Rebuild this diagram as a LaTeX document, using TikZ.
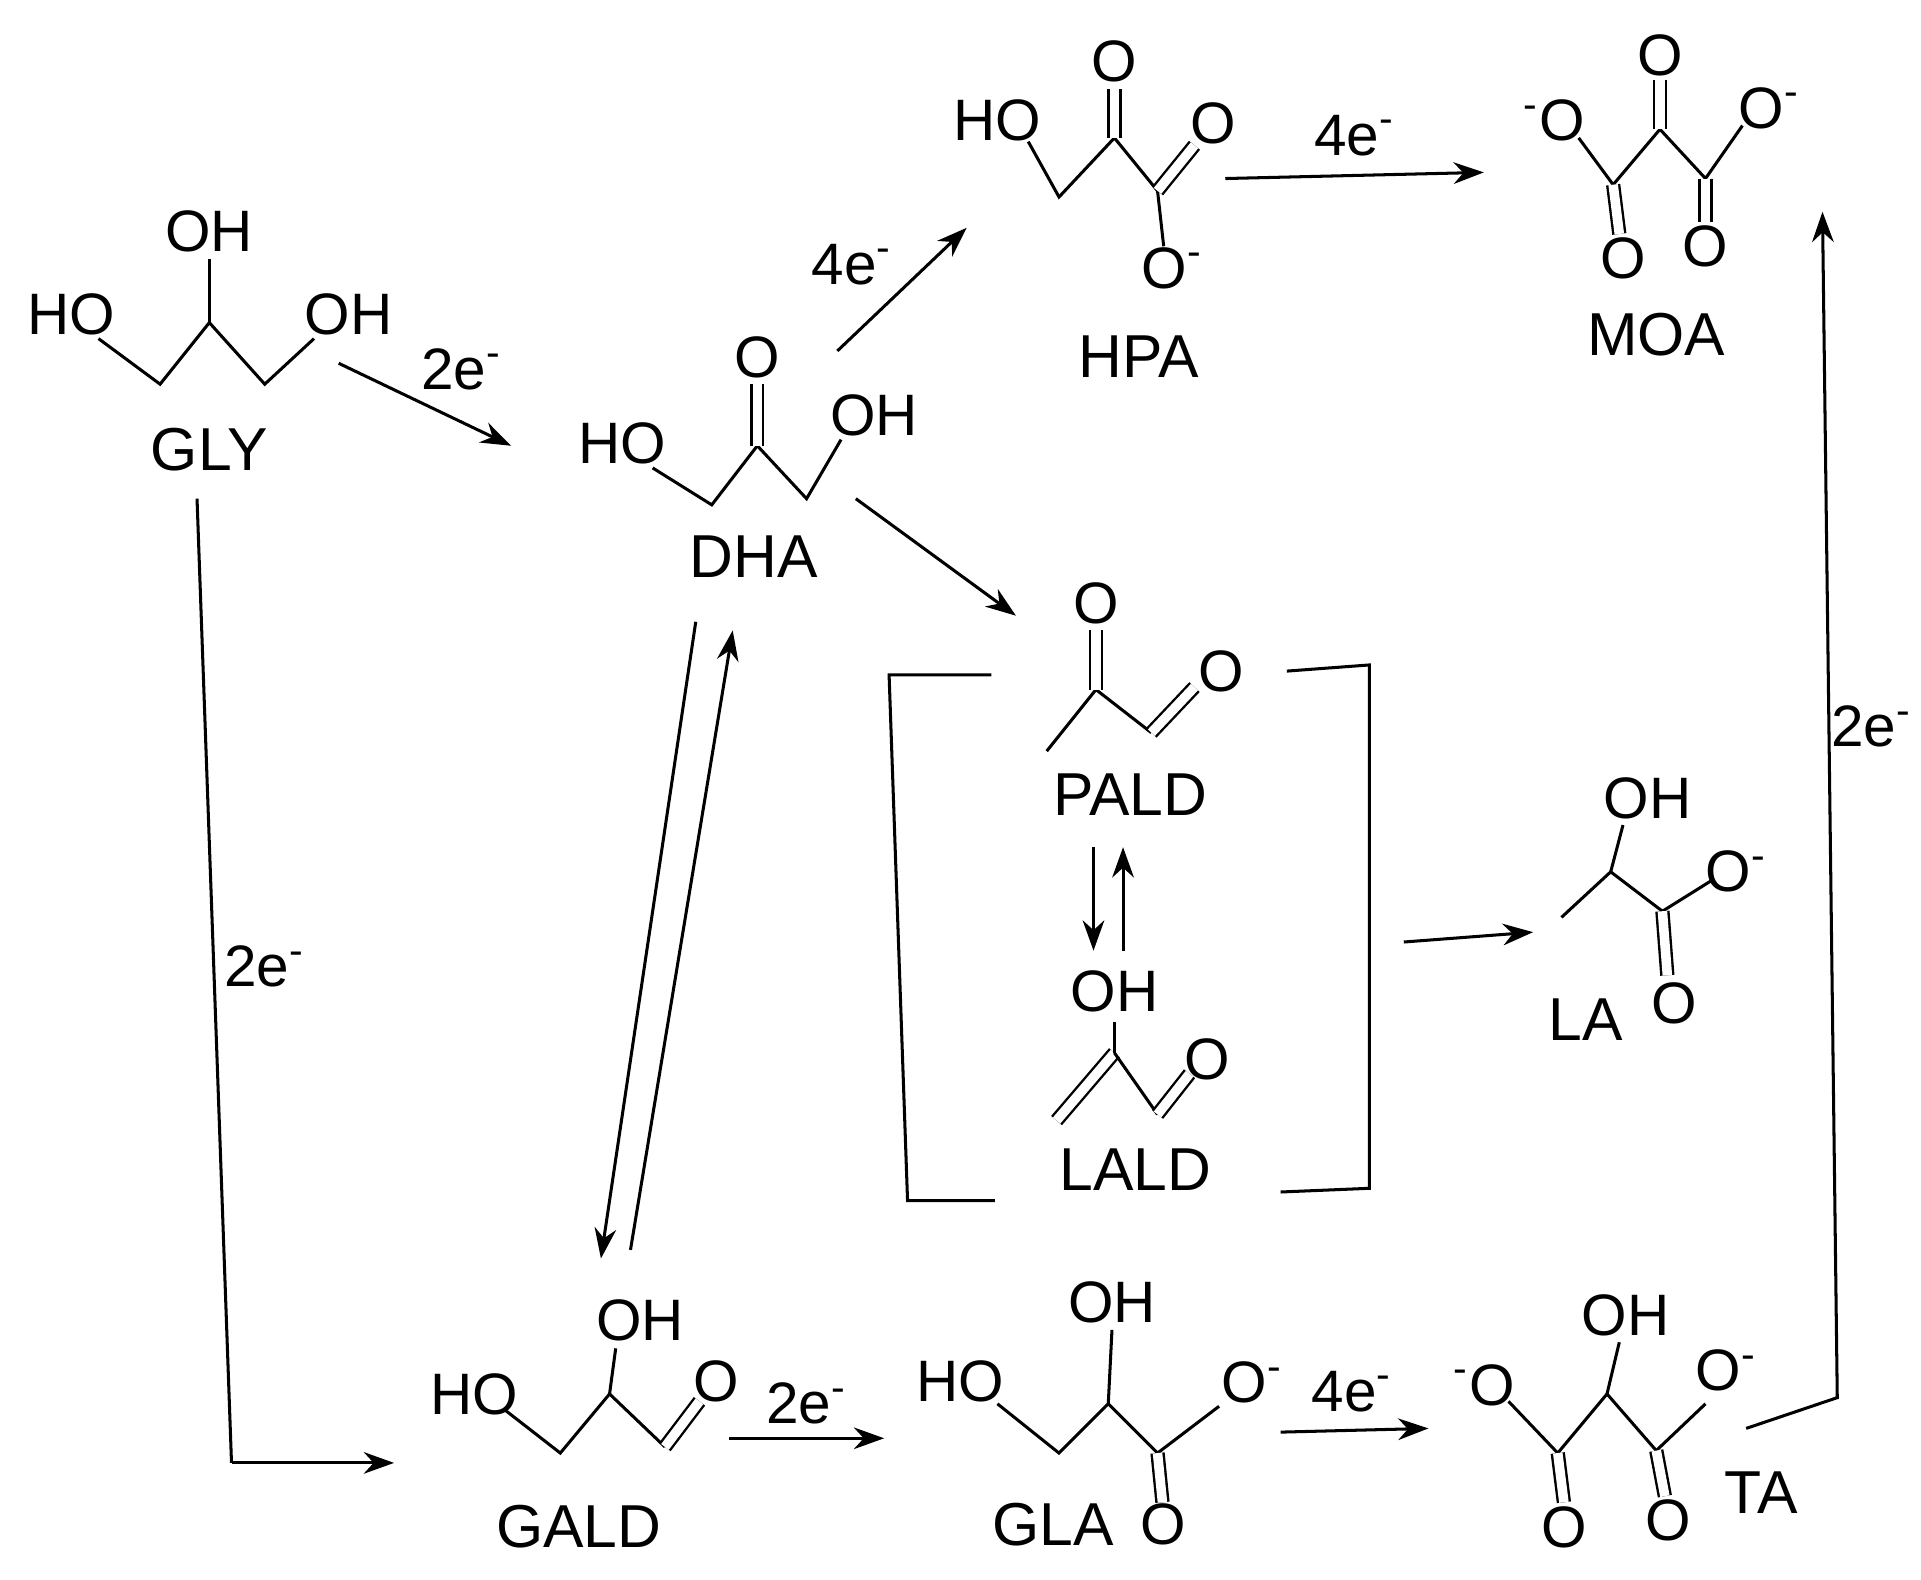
\documentclass[tikz,border=0pt]{standalone}
\usepackage{fontspec}
\setmainfont{Liberation Sans}
\usetikzlibrary{arrows.meta}
\begin{document}
\begin{tikzpicture}[x=0.01cm,y=-0.01cm,
 bond/.style={line width=0.7pt},
 dbl/.style={line width=0.55pt,double,double distance=2.2pt},
 rxn/.style={line width=0.7pt,-{Stealth[length=7pt,width=5pt]}},
 t/.style={font=\fontsize{13.5}{14}\selectfont,inner sep=0pt},
 lab/.style={font=\fontsize{14}{14}\selectfont,inner sep=0pt}]
\useasboundingbox (0,0) rectangle (1560,1283);
% GLY
\node[t] (g1) at (170,188) {OH};
\node[t] (g2) at (58,255) {HO};
\node[t] (g3) at (283,255) {OH};
\draw[bond] (80,275)--(130,312)--(170,262)--(215,312)--(255,275);
\draw[bond] (170,262)--(170,210);
\node[lab] (gly) at (170,365) {GLY};
% DHA
\node[t] at (615,290) {O};
\node[t] at (505,360) {HO};
\node[t] at (710,337) {OH};
\draw[bond] (530,380)--(578,410)--(615,362)--(655,405)--(683,357);
\draw[dbl] (615,362)--(615,312);
\node[lab] (dha) at (612,452) {DHA};
\draw[rxn] (275,295)--(415,362);
\node[t] at (375,300) {2e\textsuperscript{-}};
\draw[rxn] (680,285)--(785,185);
\node[t] at (692,215) {4e\textsuperscript{-}};
\draw[rxn] (695,405)--(825,500);
% HPA
\node[t] at (905,50) {O};
\node[t] at (810,98) {HO};
\node[t] at (985,100) {O};
\node[t] at (952,218) {O\textsuperscript{-}};
\draw[bond] (835,115)--(860,160)--(905,112)--(940,155)--(945,200);
\draw[dbl] (905,112)--(905,72);
\draw[dbl] (940,155)--(970,118);
\node[lab] (hpa) at (925,290) {HPA};
\draw[rxn] (995,145)--(1205,140);
\node[t] at (1100,110) {4e\textsuperscript{-}};
% MOA
\node[t] at (1348,45) {O};
\node[t] at (1262,98) {\textsuperscript{-}O};
\node[t] at (1437,88) {O\textsuperscript{-}};
\node[t] at (1318,210) {O};
\node[t] at (1385,200) {O};
\draw[bond] (1282,112)--(1310,150)--(1348,105)--(1385,145)--(1415,102);
\draw[dbl] (1348,105)--(1348,65);
\draw[dbl] (1310,150)--(1315,190);
\draw[dbl] (1385,145)--(1385,180);
\node[lab] (moa) at (1345,272) {MOA};
% TA -> MOA
\draw[rxn] (1418,1160)--(1492,1135)--(1480,172);
\node[t] at (1520,590) {2e\textsuperscript{-}};
% PALD
\node[t] at (890,490) {O};
\node[t] at (992,545) {O};
\draw[bond] (850,610)--(890,560)--(935,595);
\draw[dbl] (890,560)--(890,512);
\draw[dbl] (935,595)--(970,558);
\node[lab] (pald) at (918,645) {PALD};
\draw[rxn] (888,688)--(888,772);
\draw[rxn] (912,772)--(912,688);
% LALD
\node[t] at (905,805) {OH};
\node[t] at (980,860) {O};
\draw[dbl] (858,910)--(905,855);
\draw[bond] (905,855)--(905,830);
\draw[bond] (905,855)--(940,905);
\draw[dbl] (940,905)--(966,872);
\node[lab] (lald) at (922,950) {LALD};
% brackets
\draw[bond] (805,548)--(722,548)--(737,975)--(808,975);
\draw[bond] (1045,545)--(1112,540)--(1112,965)--(1040,968);
\draw[rxn] (1140,765)--(1245,757);
% LA
\node[t] at (1338,648) {OH};
\node[t] at (1410,708) {O\textsuperscript{-}};
\node[t] at (1360,815) {O};
\node[lab] (la) at (1288,828) {LA};
\draw[bond] (1268,745)--(1308,708)--(1350,740)--(1390,715);
\draw[bond] (1308,708)--(1318,670);
\draw[dbl] (1350,740)--(1354,792);
% GLY -> GALD
\draw[bond] (160,405)--(188,1188);
\draw[rxn] (188,1188)--(320,1188);
\node[t] at (215,785) {2e\textsuperscript{-}};
% DHA <-> GALD
\draw[rxn] (565,505)--(488,1022);
\draw[rxn] (512,1015)--(595,512);
% GALD
\node[t] at (520,1072) {OH};
\node[t] at (385,1132) {HO};
\node[t] at (582,1122) {O};
\draw[bond] (410,1145)--(455,1180)--(495,1132)--(540,1175);
\draw[bond] (495,1132)--(500,1095);
\draw[dbl] (540,1175)--(568,1138);
\node[lab] (gald) at (470,1240) {GALD};
\draw[rxn] (592,1168)--(718,1168);
\node[t] at (655,1140) {2e\textsuperscript{-}};
% GLA
\node[t] at (903,1058) {OH};
\node[t] at (780,1122) {HO};
\node[t] at (1017,1123) {O\textsuperscript{-}};
\node[t] at (945,1238) {O};
\draw[bond] (810,1140)--(860,1180)--(900,1140)--(940,1180)--(990,1142);
\draw[bond] (900,1140)--(903,1080);
\draw[dbl] (940,1180)--(944,1220);
\node[lab] (gla) at (855,1238) {GLA};
\draw[rxn] (1040,1163)--(1160,1160);
\node[t] at (1098,1130) {4e\textsuperscript{-}};
% TA
\node[t] at (1320,1068) {OH};
\node[t] at (1205,1125) {\textsuperscript{-}O};
\node[t] at (1402,1113) {O\textsuperscript{-}};
\node[t] at (1270,1240) {O};
\node[t] at (1355,1235) {O};
\draw[bond] (1225,1138)--(1265,1180)--(1305,1132)--(1345,1178)--(1385,1140);
\draw[bond] (1305,1132)--(1315,1090);
\draw[dbl] (1265,1180)--(1270,1220);
\draw[dbl] (1345,1178)--(1352,1215);
\node[lab] (ta) at (1430,1212) {TA};
\end{tikzpicture}
\end{document}
